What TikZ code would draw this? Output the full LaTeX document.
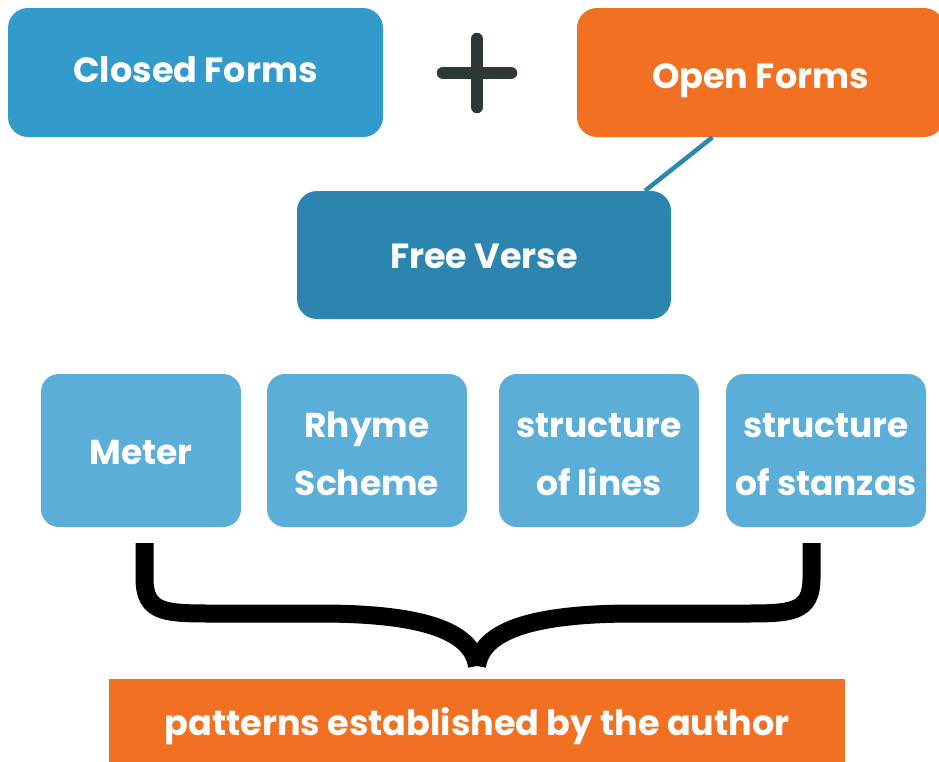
\documentclass[tikz,border=0pt]{standalone}
\usepackage{fontspec}
\setmainfont{Poppins}
\usetikzlibrary{calc}
\definecolor{closedblue}{HTML}{339BCB}
\definecolor{freeblue}{HTML}{2B85AF}
\definecolor{lightblue}{HTML}{5AAED7}
\definecolor{openorange}{HTML}{F17022}
\definecolor{linkblue}{HTML}{2C88B2}
\definecolor{plusgrey}{HTML}{2E3838}
% one line of box text: baseline on the node centre, then raised by #1
\newcommand{\boxline}[2]{\raisebox{#1}[10pt][10pt]{#2}}
% two centred lines, 58pt apart; the lower baseline sits on the node centre, raised by #1
\newcommand{\boxlines}[3]{\raisebox{#1}[10pt][10pt]{\vbox{\baselineskip=58pt
  \halign{\hfil##\hfil\cr #2\cr #3\cr}}}}
\tikzset{
  box/.style={rounded corners=20pt, inner sep=0pt, text=white,
    font=\fontsize{35}{40}\selectfont\bfseries},
  bigbox/.style={box, minimum height=129pt},
  smallbox/.style={box, fill=lightblue, rounded corners=18pt,
    minimum width=200pt, minimum height=153pt,
    font=\fontsize{34.5}{58}\selectfont\bfseries},
  bracestroke/.style={line width=18pt, line cap=butt, line join=round},
}
\begin{document}
\begin{tikzpicture}[x=1pt,y=-1pt]
\useasboundingbox (0,0) rectangle (939,761);
\fill[white] (0,0) rectangle (939,761);

% top row
\node[bigbox, fill=closedblue, minimum width=375pt] (closed) at (195.5,72.5) {\boxline{-9.75pt}{Closed Forms}};
\node[bigbox, fill=openorange, minimum width=367pt] (open) at (760.5,72.5) {\boxline{-15.75pt}{Open Forms}};
\node[bigbox, fill=freeblue, minimum width=374pt, minimum height=128pt] (free) at (484,255) {\boxline{-13.25pt}{Free Verse}};

% plus sign between the two form types
\coordinate (plus) at (477,73);
\draw[plusgrey, line width=12.5pt, line cap=round]
  ($(plus)+(0,-34)$) -- ($(plus)+(0,34)$)
  ($(plus)+(-34,0)$) -- ($(plus)+(34,0)$);

% link from open forms down to free verse
\draw[linkblue, line width=4.5pt] ([xshift=-48pt]open.south) -- ([xshift=161pt]free.north);

% elements of form
\node[smallbox] (meter)  at (141,450.5) {\boxline{-13.75pt}{Meter}};
\node[smallbox] (rhyme)  at (367,450.5) {\boxlines{-44.75pt}{Rhyme}{Scheme}};
\node[smallbox] (lines)  at (599,450.5) {\boxlines{-44.75pt}{structure}{of lines}};
\node[smallbox] (stanza) at (826,450.5) {\boxlines{-44.75pt}{structure}{of stanzas}};

% result box
\node[fill=openorange, text=white, inner sep=0pt, minimum width=736pt, minimum height=84pt,
      font=\fontsize{35}{40}\selectfont\bfseries] (author) at (477,721) {\boxline{-14.25pt}{patterns established by the author}};

% brace gathering the four elements
\coordinate (bl) at (144.5,543);
\coordinate (br) at (811.5,543);
\coordinate (tip) at (477,666);
\draw[bracestroke] (bl) -- (144.5,578) .. controls (144.5,613.5) and (165,613.5) .. (215,613.5)
  -- (320,613.5) .. controls (420,613.5) and (472,630) .. (tip);
\draw[bracestroke] (br) -- (811.5,578) .. controls (811.5,613.5) and (791,613.5) .. (741,613.5)
  -- (634,613.5) .. controls (534,613.5) and (482,630) .. (tip);
\end{tikzpicture}
\end{document}
